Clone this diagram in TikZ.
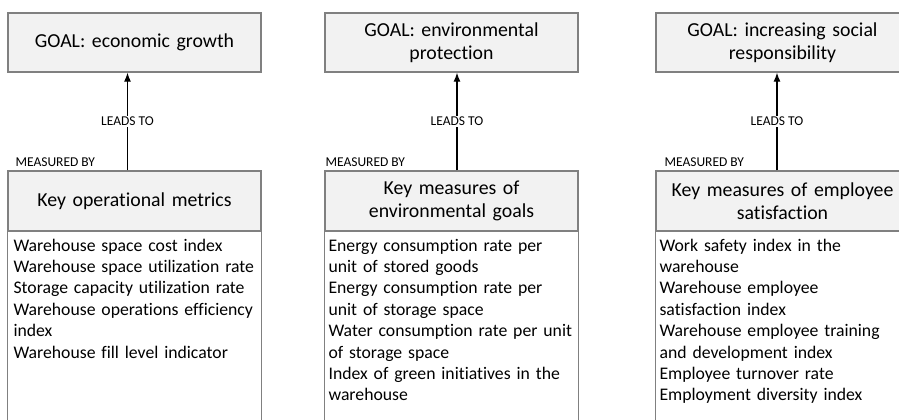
\documentclass[tikz,border=0pt]{standalone}
\usepackage{fontspec}
\setmainfont{Carlito}[Ligatures=NoCommon]
\usetikzlibrary{positioning,arrows.meta}
\definecolor{boxfill}{HTML}{F2F2F2}
\definecolor{boxline}{HTML}{808080}
\tikzset{
  goalbox/.style={draw=boxline, fill=boxfill, line width=1.3pt, minimum width=253pt,
    minimum height=59pt, text width=245pt, align=center, inner sep=0pt,
    font=\fontsize{19.8}{23.5}\selectfont},
  keybox/.style={goalbox, minimum height=60pt},
  listtext/.style={anchor=north west, text width=250pt, align=left, inner sep=0pt,
    font=\fontsize{17.7}{21.4}\selectfont},
  listframe/.style={draw=boxline, line width=1.3pt},
  tag/.style={font=\fontsize{13.5}{15}\selectfont, inner sep=1pt},
  leads/.style={-{Latex[length=9pt,width=7pt]}, line width=1.3pt}
}
\begin{document}
\begin{tikzpicture}[x=1pt,y=-1pt]
\useasboundingbox (0,0) rectangle (899,420);
\clip (0,0) rectangle (899,420);
\coordinate (bottom) at (0,430);
% goals
\node at (134.5,42.5) [goalbox](goal1){GOAL: economic growth};
\node at (451.5,42.5) [goalbox](goal2){GOAL: environmental\\protection};
\node at (782.5,42.5) [goalbox](goal3){GOAL: increasing social\\responsibility};
% key measures
\node at (134.5,201) [keybox](key1){Key operational metrics};
\node at (451.5,201) [keybox](key2){Key measures of\\environmental goals};
\node at (782.5,201) [keybox](key3){Key measures of employee\\satisfaction};
% lists
\draw[listframe] (key1.south west) rectangle (key1.south east |- bottom);
\draw[listframe] (key2.south west) rectangle (key2.south east |- bottom);
\draw[listframe] (key3.south west) rectangle (key3.south east |- bottom);
\node at ([xshift=6pt,yshift=-7pt]key1.south west) [listtext](list1){Warehouse space cost index\\
Warehouse space utilization rate\\Storage capacity utilization rate\\
Warehouse operations efficiency\\index\\Warehouse fill level indicator};
\node at ([xshift=4pt,yshift=-7pt]key2.south west) [listtext](list2){Energy consumption rate per\\
unit of stored goods\\Energy consumption rate per\\unit of storage space\\
Water consumption rate per unit\\of storage space\\Index of green initiatives in the\\warehouse};
\node at ([xshift=4pt,yshift=-7pt]key3.south west) [listtext](list3){Work safety index in the\\
warehouse\\Warehouse employee\\satisfaction index\\Warehouse employee training\\
and development index\\Employee turnover rate\\Employment diversity index};
% arrows
\coordinate (a1) at (127.5,0);
\coordinate (a2) at (457,0);
\coordinate (a3) at (777,0);
\draw[leads] (key1.north -| a1) -- node[tag,fill=white]{LEADS TO} (goal1.south -| a1);
\draw[leads] (key2.north -| a2) -- node[tag,fill=white]{LEADS TO} (goal2.south -| a2);
\draw[leads] (key3.north -| a3) -- node[tag,fill=white]{LEADS TO} (goal3.south -| a3);
\node at (key1.north west) [tag,anchor=south west,xshift=7pt,yshift=3pt](meas1){MEASURED BY};
\node at (key2.north west) [tag,anchor=south west,xshift=0pt,yshift=3pt](meas2){MEASURED BY};
\node at (key3.north west) [tag,anchor=south west,xshift=8pt,yshift=3pt](meas3){MEASURED BY};
\end{tikzpicture}
\end{document}
